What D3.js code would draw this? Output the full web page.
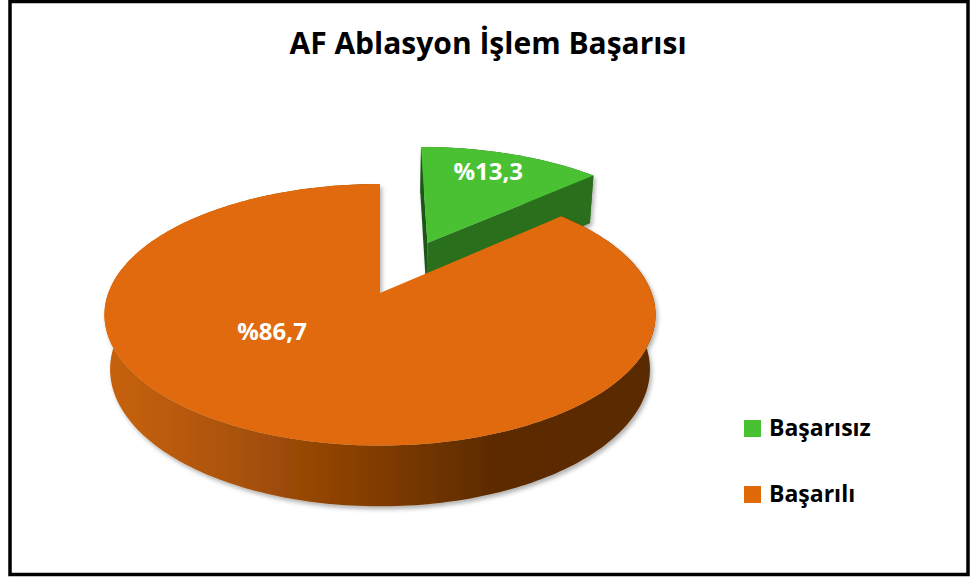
<!DOCTYPE html>
<html lang="tr">
<head>
  <meta charset="UTF-8">
  <title>AF Ablasyon</title>
  <script src="https://cdn.jsdelivr.net/npm/d3@7/dist/d3.min.js"></script>
  <style>
    body { margin: 0; background: #fff; }
    text { font-family: "Open Sans", sans-serif; font-weight: bold; }
  </style>
</head>
<body>
<script>
  // data
  var categories = ['Başarısız', 'Başarılı']
  var values = [13.3, 86.7]
  var labels = ['%13,3', '%86,7']
  var title = 'AF Ablasyon İşlem Başarısı'

  var topColors = ['#48c133', '#e06a08']
  var explode = [0.46, 0]

  var width = 972
  var height = 583

  var svg = d3.select('body').append('svg')
    .attr('width', width)
    .attr('height', height)

  var defs = svg.append('defs')
  var shadow = defs.append('filter').attr('id', 'shadow')
    .attr('x', '-10%').attr('y', '-10%').attr('width', '120%').attr('height', '130%')
  shadow.append('feDropShadow')
    .attr('dx', 2).attr('dy', 3).attr('stdDeviation', 2)
    .attr('flood-color', '#000').attr('flood-opacity', 0.3)

  var sideGrad = defs.append('linearGradient').attr('id', 'sideGrad')
    .attr('gradientUnits', 'userSpaceOnUse')
    .attr('x1', 103).attr('x2', 651).attr('y1', 0).attr('y2', 0)
  sideGrad.append('stop').attr('offset', 0).attr('stop-color', '#c8620b')
  sideGrad.append('stop').attr('offset', 0.2).attr('stop-color', '#b0560a')
  sideGrad.append('stop').attr('offset', 0.45).attr('stop-color', '#8a4004')
  sideGrad.append('stop').attr('offset', 0.7).attr('stop-color', '#5e2c03')
  sideGrad.append('stop').attr('offset', 1).attr('stop-color', '#5a2902')

  var sideColors = ['#2b701f', 'url(#sideGrad)']

  // frame
  svg.append('rect')
    .attr('x', 10).attr('y', 1.5)
    .attr('width', 958).attr('height', 573)
    .attr('fill', 'none').attr('stroke', '#000').attr('stroke-width', 3.5)

  svg.append('text')
    .attr('x', 488).attr('y', 54)
    .attr('text-anchor', 'middle')
    .attr('font-size', 30)
    .attr('fill', '#000')
    .text(title)

  // 3d projection of the pie disk (u: right, v: away, h: up)
  var F = 1440, D = 5.3, sa = 0.468, ca = 0.883, cx = 380, cy = 293, H = 0.229
  function proj(u, v, h) {
    var yc = v * sa + h * ca
    var zc = D + v * ca - h * sa
    return [cx + F * u / zc, cy - F * yc / zc]
  }

  var pie = d3.pie().sort(null).value(d => d)
  var arcs = pie(values)
  var line = d3.line()

  function rimPoints(a0, a1, ou, ov, h) {
    var n = Math.max(2, Math.ceil((a1 - a0) / 0.02))
    var pts = []
    for (var k = 0; k <= n; k++) {
      var a = a0 + (a1 - a0) * k / n
      pts.push(proj(ou + Math.sin(a), ov + Math.cos(a), h))
    }
    return pts
  }

  function radialFace(a, ou, ov) {
    return [proj(ou, ov, 0), proj(ou + Math.sin(a), ov + Math.cos(a), 0),
      proj(ou + Math.sin(a), ov + Math.cos(a), -H), proj(ou, ov, -H)]
  }

  // green (back) slice first, orange in front
  var order = [0, 1]
  order.forEach(function (i) {
    var d = arcs[i]
    var mid = (d.startAngle + d.endAngle) / 2
    var ou = explode[i] * Math.sin(mid)
    var ov = explode[i] * Math.cos(mid)
    var g = svg.append('g').attr('filter', 'url(#shadow)')

    // outer side
    var top = rimPoints(d.startAngle, d.endAngle, ou, ov, 0)
    var bot = rimPoints(d.startAngle, d.endAngle, ou, ov, -H).reverse()
    g.append('path')
      .attr('d', line(top.concat(bot)) + 'Z')
      .attr('fill', sideColors[i])

    if (explode[i] > 0) {
      g.append('path')
        .attr('d', line(radialFace(d.startAngle, ou, ov)) + 'Z')
        .attr('fill', '#1f5516')
      g.append('path')
        .attr('d', line(radialFace(d.endAngle, ou, ov)) + 'Z')
        .attr('fill', sideColors[i])
    }

    // top face
    var face = [proj(ou, ov, 0)].concat(top)
    g.append('path')
      .attr('d', line(face) + 'Z')
      .attr('fill', topColors[i])
  })

  // labels
  var labelR = [0.78, 0.47]
  var labelTurn = [-0.04, 0.52]
  arcs.forEach(function (d, i) {
    var mid = (d.startAngle + d.endAngle) / 2
    var ou = explode[i] * Math.sin(mid)
    var ov = explode[i] * Math.cos(mid)
    var a = mid + labelTurn[i]
    var p = proj(ou + labelR[i] * Math.sin(a), ov + labelR[i] * Math.cos(a), 0)
    svg.append('text')
      .attr('x', p[0]).attr('y', p[1])
      .attr('text-anchor', 'middle')
      .attr('dominant-baseline', 'central')
      .attr('font-size', 24)
      .attr('fill', '#fff')
      .text(labels[i])
  })

  // legend
  var legendY = d3.scalePoint().domain(categories).range([428, 494])
  var legend = svg.selectAll('.legend')
    .data(categories)
    .enter().append('g')
    .attr('class', 'legend')
    .attr('transform', d => 'translate(744,' + legendY(d) + ')')
  legend.append('rect')
    .attr('x', 0).attr('y', -8)
    .attr('width', 17).attr('height', 17)
    .attr('fill', (d, i) => topColors[i])
  legend.append('text')
    .attr('x', 25).attr('y', 8)
    .attr('font-size', 23)
    .attr('fill', '#000')
    .text(d => d)
</script>
</body>
</html>
